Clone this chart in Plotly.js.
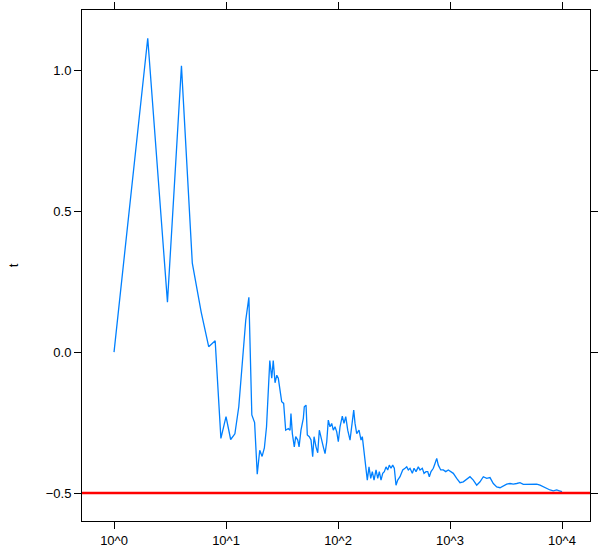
<!DOCTYPE html>
<html>
<head>
<meta charset="utf-8">
<script src="https://cdn.plot.ly/plotly-3.0.1.min.js"></script>
<style>html,body{margin:0;padding:0;background:#fff}#chart{width:600px;height:554px}</style>
</head>
<body>
<div id="chart"></div>
<script>
// sample size n (log x axis) and running statistic t
const n = [1,2,3,4,5,6,7,8,9,10,11,12,13,14,15,16,17,18,19,20,
  21,22,23,24.6,25.6,26.4,27.4,28.4,29.3,31.4,32.7,34.1,36.0,37.3,38.0,39.1,40.7,41.9,43.7,44.9,46.7,49.0,50.0,51.8,53.2,55.4,57.4,59.4,61.1,63.6,65.9,68.1,70.5,73.9,76.6,79.3,81.9,84.8,87.8,90.8,94.0,97.4,100.6,104.2,109.2,113.1,117.2,122.1,128.0,132.6,138.1,141.9,146.9,154.0,160.5,164.8,171.7,
  174.2,177.8,182.6,189.1,195.9,202.5,209.7,218.5,226.3,233.8,242.1,250.7,259.1,268.3,277.8,287.1,297.3,307.9,318.2,329.5,341.2,357.8,378.2,396.6,410.7,424.4,439.5,460.8,477.2,497.2,521.2,539.8,565.9,586.1,610.6,632.4,653.5,676.8,709.5,734.8,760.9,786.3,826.1,871.4,915.4,965.6,1014.6,1070.3,
  1147.6,1228.3,1314.6,1409.6,1508.5,1614.4,1731.4,1853.1,1983.1,2126.8,2276.1,2435.9,2612.1,2795.4,2991.6,3208.2,3433.2,3674.1,3940,4217,4513,4839,5180,5544,5944,6363,6808,7302,7816,8364,8969,9461,10000];
const t = [0.000,1.113,0.177,1.015,0.315,0.142,0.019,0.040,-0.306,-0.229,-0.310,-0.290,-0.194,-0.028,0.113,0.194,-0.223,-0.250,-0.433,-0.348,
  -0.370,-0.340,-0.265,-0.030,-0.093,-0.030,-0.109,-0.082,-0.093,-0.176,-0.182,-0.277,-0.271,-0.277,-0.218,-0.289,-0.336,-0.300,-0.312,-0.336,-0.277,-0.235,-0.194,-0.188,-0.294,-0.300,-0.312,-0.371,-0.300,-0.336,-0.357,-0.277,-0.306,-0.336,-0.360,-0.318,-0.241,-0.265,-0.253,-0.277,-0.265,-0.283,-0.318,-0.265,-0.227,-0.253,-0.229,-0.277,-0.312,-0.265,-0.206,-0.253,-0.289,-0.277,-0.312,-0.300,-0.360,
  -0.371,-0.418,-0.454,-0.407,-0.448,-0.424,-0.454,-0.418,-0.448,-0.424,-0.454,-0.430,-0.424,-0.407,-0.418,-0.401,-0.412,-0.401,-0.412,-0.472,-0.454,-0.442,-0.418,-0.412,-0.407,-0.418,-0.412,-0.430,-0.412,-0.424,-0.407,-0.418,-0.412,-0.430,-0.424,-0.424,-0.442,-0.424,-0.412,-0.395,-0.377,-0.401,-0.418,-0.418,-0.424,-0.418,-0.424,-0.430,
  -0.448,-0.463,-0.460,-0.451,-0.442,-0.454,-0.472,-0.460,-0.442,-0.448,-0.445,-0.466,-0.478,-0.481,-0.475,-0.468,-0.466,-0.468,-0.466,-0.463,-0.469,-0.469,-0.468,-0.470,-0.468,-0.472,-0.478,-0.483,-0.489,-0.492,-0.489,-0.492,-0.495];
const refValue = -0.5;
const xTickVals = [1,10,100,1000,10000];
const xTickText = ['10^0','10^1','10^2','10^3','10^4'];
const yTickVals = [-0.5,0,0.5,1.0];
const yTickText = ['\u22120.5','0.0','0.5','1.0'];

const traces = [
  {x: n, y: t, type: 'scatter', mode: 'lines', line: {color: '#0080ff', width: 1.3}, hoverinfo: 'skip'},
  {x: [n[0]*0.1, n[n.length-1]*10], y: [refValue, refValue], type: 'scatter', mode: 'lines', line: {color: '#ff0000', width: 2.5}, hoverinfo: 'skip'}
];
const axisCommon = {
  showline: true, linecolor: '#000', linewidth: 1, mirror: 'allticks',
  ticks: 'outside', ticklen: 7, tickwidth: 1, tickcolor: '#000',
  showgrid: false, zeroline: false,
  tickfont: {family: 'Liberation Sans, Arial, sans-serif', size: 13, color: '#000'}
};
const layout = {
  width: 600, height: 554,
  margin: {l: 82, r: 10, t: 10, b: 33},
  paper_bgcolor: '#fff', plot_bgcolor: '#fff',
  showlegend: false,
  xaxis: Object.assign({}, axisCommon, {
    type: 'log', range: [-0.286, 4.25],
    tickvals: xTickVals, ticktext: xTickText
  }),
  yaxis: Object.assign({}, axisCommon, {
    range: [-0.599, 1.213],
    tickvals: yTickVals, ticktext: yTickText,
    title: {text: 't', standoff: 24, font: {family: 'Liberation Sans, Arial, sans-serif', size: 13, color: '#000'}}
  })
};
Plotly.newPlot('chart', traces, layout, {staticPlot: true, displayModeBar: false});
</script>
</body>
</html>
